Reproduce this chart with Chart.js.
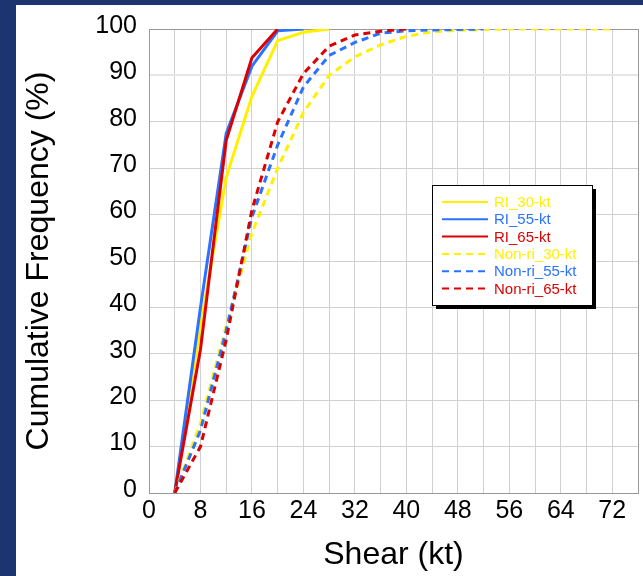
<!DOCTYPE html>
<html>
<head>
<meta charset="utf-8">
<title>Shear cumulative frequency</title>
<script src="https://cdn.jsdelivr.net/npm/chart.js@4.4.1/dist/chart.umd.min.js"></script>
<style>
  html, body { margin: 0; padding: 0; background: #1c3470; }
  canvas { display: block; }
</style>
</head>
<body>
<canvas id="cdf" width="643" height="576"></canvas>
<script>
  'use strict'

  // shear bins (kt) and cumulative frequency (%) per group
  const shear = [4, 8, 12, 16, 20, 24, 28, 32, 36, 40, 44, 48, 52, 56, 60, 64, 68, 72]
  const ri30 = [0, 36, 68, 85.5, 97.5, 99.3, 100]
  const ri55 = [0, 40, 77.5, 92, 99.6, 100]
  const ri65 = [0, 31, 76, 93.8, 100]
  const nonRi30 = [0, 15, 36, 56, 70, 82, 90, 94, 96.6, 98.4, 99.4, 99.7, 99.9, 100, 100, 100, 100, 100]
  const nonRi55 = [0, 13.5, 35, 59.5, 75, 87.5, 94.3, 97.1, 99.1, 99.6, 99.8, 99.9, 100]
  const nonRi65 = [0, 10, 33, 61, 80, 90.4, 96.3, 98.7, 99.5, 100]

  const seriesNames = ['RI_30-kt', 'RI_55-kt', 'RI_65-kt', 'Non-ri_30-kt', 'Non-ri_55-kt', 'Non-ri_65-kt']
  const seriesValues = [ri30, ri55, ri65, nonRi30, nonRi55, nonRi65]

  const YELLOW = '#fff000'
  const BLUE = '#2a72ff'
  const RED = '#dd0000'
  const colors = [YELLOW, BLUE, RED, YELLOW, BLUE, RED]
  const DASH = [7, 5]

  const toPoints = vals => vals.map((v, i) => ({ x: shear[i], y: v }))

  const datasets = seriesValues.map((vals, i) => ({
    label: seriesNames[i],
    data: toPoints(vals),
    borderColor: colors[i],
    backgroundColor: colors[i],
    borderWidth: 3,
    borderDash: i >= 3 ? DASH : [],
    pointRadius: 0,
    tension: 0,
    fill: false,
    order: seriesValues.length - i
  }))

  // navy frame on the left and top, white page elsewhere
  const pageBg = {
    id: 'pageBg',
    beforeDraw(chart) {
      const { ctx, width, height } = chart
      ctx.save()
      ctx.fillStyle = '#1c3470'
      ctx.fillRect(0, 0, width, height)
      ctx.fillStyle = '#ffffff'
      ctx.fillRect(16, 5, width - 16, height - 5)
      ctx.restore()
    }
  }

  // boxed legend with a drop shadow, inside the plot
  const boxLegend = {
    id: 'boxLegend',
    afterDraw(chart) {
      const { ctx } = chart
      const x = 432, y = 185, w = 160, h = 120
      ctx.save()
      ctx.fillStyle = '#000'
      ctx.fillRect(x + 4, y + 4, w, h)
      ctx.fillStyle = '#fff'
      ctx.fillRect(x, y, w, h)
      ctx.strokeStyle = '#000'
      ctx.lineWidth = 1
      ctx.strokeRect(x + 0.5, y + 0.5, w, h)
      ctx.font = '15px "Liberation Sans", Arial, sans-serif'
      ctx.textBaseline = 'middle'
      chart.data.datasets.forEach((ds, i) => {
        const ry = 202 + i * 17.3
        ctx.strokeStyle = ds.borderColor
        ctx.lineWidth = 2
        ctx.setLineDash(ds.borderDash)
        ctx.beginPath()
        ctx.moveTo(442, ry)
        ctx.lineTo(488, ry)
        ctx.stroke()
        ctx.setLineDash([])
        ctx.fillStyle = ds.borderColor
        ctx.fillText(ds.label, 494, ry + 1)
      })
      ctx.restore()
    }
  }

  const font = '"Liberation Sans", Arial, sans-serif'

  new Chart(document.getElementById('cdf'), {
    type: 'line',
    data: { datasets },
    plugins: [pageBg, boxLegend],
    options: {
      responsive: false,
      animation: false,
      devicePixelRatio: 1,
      layout: { padding: { left: 16, top: 29, right: 5, bottom: 0 } },
      plugins: {
        legend: { display: false },
        tooltip: { enabled: false }
      },
      scales: {
        x: {
          type: 'linear',
          min: 0,
          max: 76,
          afterFit: scale => { scale.height = 83 },
          ticks: {
            stepSize: 4,
            autoSkip: false,
            maxRotation: 0,
            padding: 3,
            color: '#000',
            font: { family: font, size: 25 },
            callback: v => (v % 8 === 0 && v <= 72 ? v : '')
          },
          grid: {
            drawTicks: false,
            color: c => (c.tick && c.tick.value === 76 ? '#999' : '#d0d0d0'),
            lineWidth: 1
          },
          border: { color: '#999', width: 1 },
          title: {
            display: true,
            text: 'Shear (kt)',
            color: '#000',
            font: { family: font, size: 32 },
            padding: { top: 0, bottom: 2 }
          }
        },
        y: {
          min: 0,
          max: 100,
          afterFit: scale => { scale.width = 133 },
          ticks: {
            stepSize: 10,
            padding: 12,
            labelOffset: -3,
            color: '#000',
            font: { family: font, size: 25 }
          },
          grid: {
            drawTicks: false,
            color: c => {
              const v = c.tick && c.tick.value
              if (v === 100) return '#999'
              if (v === 90) return '#e6e6e6'
              return '#d0d0d0'
            },
            lineWidth: c => (c.tick && c.tick.value === 90 ? 2 : 1)
          },
          border: { color: '#999', width: 1 },
          title: {
            display: true,
            text: 'Cumulative Frequency (%)',
            color: '#000',
            font: { family: font, size: 32 },
            padding: { top: 4, bottom: 0 }
          }
        }
      }
    }
  })
</script>
</body>
</html>
